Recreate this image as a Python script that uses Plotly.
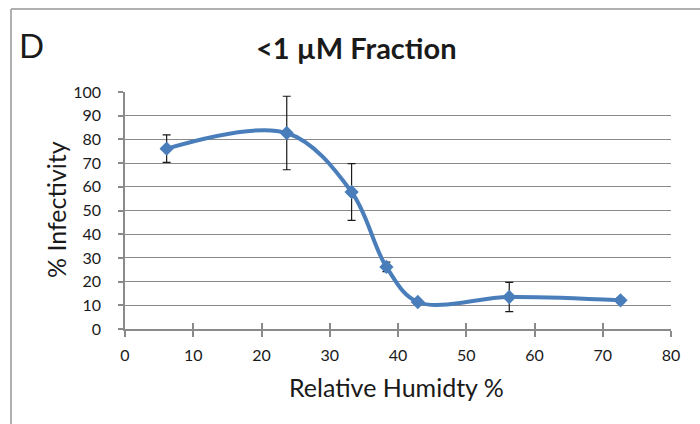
import plotly.graph_objects as go

# Relative humidity (%) vs infectivity (%) for the <1 µM fraction
humidity = [6.1, 23.7, 33.2, 38.3, 42.9, 56.3, 72.6]
infectivity = [76.1, 82.7, 57.8, 26.2, 11.4, 13.5, 12.1]
err = [5.8, 15.5, 12.0, 2.0, 1.0, 6.2, 1.0]

x_ticks = [0, 10, 20, 30, 40, 50, 60, 70, 80]
y_ticks = [0, 10, 20, 30, 40, 50, 60, 70, 80, 90, 100]

W, H = 700, 424
L, R, T, B = 125, 29, 92, 95
pw, ph = W - L - R, H - T - B


def px(x):
    return (x - L) / pw


def py(y):
    return (H - B - y) / ph


font = "Lato, 'Open Sans', sans-serif"
grey = "#8a8a8a"
txt = "#1a1a1a"

fig = go.Figure()
fig.add_trace(go.Scatter(
    x=humidity,
    y=infectivity,
    mode="lines+markers",
    line=dict(color="#4a7ebb", width=4, shape="spline", smoothing=1),
    marker=dict(symbol="diamond", size=11, color="#4a7ebb"),
    error_y=dict(type="data", array=err, color="#1a1a1a", thickness=1.2, width=4),
    showlegend=False,
))
# helper trace so the overlay axis (ticks crossing the x axis) is drawn
fig.add_trace(go.Scatter(x=[0], y=[None], xaxis="x2", showlegend=False, hoverinfo="skip"))


def note(text, x, y, size, angle=0):
    return dict(text=text, x=px(x), y=py(y), xref="paper", yref="paper",
                xanchor="center", yanchor="middle", showarrow=False,
                textangle=angle, font=dict(size=size, color=txt))


fig.update_layout(
    width=W,
    height=H,
    margin=dict(l=L, r=R, t=T, b=B),
    paper_bgcolor="white",
    plot_bgcolor="white",
    font=dict(family=font, color=txt),
    xaxis=dict(
        range=[0, 80], tickvals=x_ticks, showgrid=False, zeroline=False,
        showline=True, linecolor=grey, linewidth=1.5,
        ticks="outside", ticklen=6, tickcolor=grey, tickwidth=1.5,
        tickfont=dict(size=16), ticklabelstandoff=5,
    ),
    xaxis2=dict(
        range=[0, 80], tickvals=x_ticks, overlaying="x", anchor="y", side="bottom",
        showgrid=False, zeroline=False, showticklabels=False,
        ticks="inside", ticklen=6, tickcolor=grey, tickwidth=1.5,
    ),
    yaxis=dict(
        range=[0, 100], tickvals=y_ticks, showgrid=True, gridcolor=grey, gridwidth=1.2,
        zeroline=False, showline=True, linecolor=grey, linewidth=1.5,
        ticks="outside", ticklen=5, tickcolor=grey, tickwidth=1.5,
        tickfont=dict(size=16), ticklabelstandoff=14,
    ),
    annotations=[
        note("<b><1 µM Fraction</b>", 356, 47, 29),
        note("D", 31, 45, 33),
        note("% Infectivity", 56, 210, 25, -90),
        note("Relative Humidty %", 396, 387, 25),
    ],
    shapes=[
        dict(type="line", xref="paper", yref="paper", x0=px(11), x1=px(W + 5),
             y0=py(9), y1=py(9), line=dict(color="#b0b0b0", width=2)),
        dict(type="line", xref="paper", yref="paper", x0=px(11), x1=px(11),
             y0=py(9), y1=py(H + 5), line=dict(color="#b0b0b0", width=2)),
    ],
)

fig.write_html("out.html", config={"displayModeBar": False},
               post_script="document.body.style.margin='0px';")
